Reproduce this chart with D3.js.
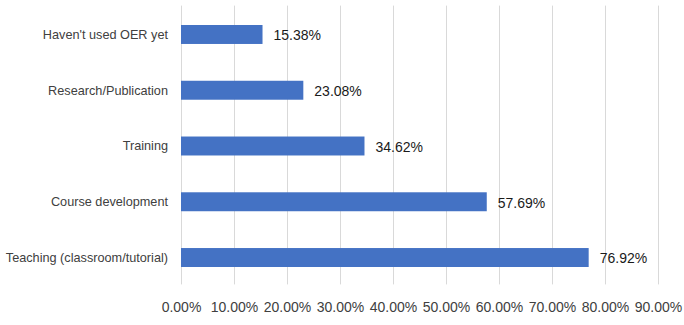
<!DOCTYPE html>
<html>
<head>
<meta charset="utf-8">
<script src="https://cdn.jsdelivr.net/npm/d3@7"></script>
<style>
  html, body { margin: 0; padding: 0; background: #fff; }
  svg { display: block; }
</style>
</head>
<body>
<svg id="chart" width="684" height="325"></svg>
<script>
const categories = ["Haven't used OER yet", "Research/Publication", "Training", "Course development", "Teaching (classroom/tutorial)"];
const values = [15.38, 23.08, 34.62, 57.69, 76.92];
const tickValues = [0, 10, 20, 30, 40, 50, 60, 70, 80, 90];

const svg = d3.select("#chart");
const plotLeft = 181, plotRight = 658, plotTop = 6.6, plotBottom = 285.4;

const x = d3.scaleLinear().domain([0, 90]).range([plotLeft, plotRight]);
const y = d3.scaleBand().domain(categories).range([plotTop, plotBottom]).paddingInner(0.66).paddingOuter(0.33);

// gridlines
svg.append("g").selectAll("line").data(tickValues).join("line")
  .attr("x1", d => Math.round(x(d)) + 0.5).attr("x2", d => Math.round(x(d)) + 0.5)
  .attr("y1", plotTop - 1).attr("y2", plotBottom - 1)
  .attr("stroke", "#d9d9d9").attr("stroke-width", 1);

// bars
svg.append("g").selectAll("rect").data(values).join("rect")
  .attr("x", x(0))
  .attr("y", (d, i) => y(categories[i]))
  .attr("width", d => x(d) - x(0))
  .attr("height", y.bandwidth())
  .attr("fill", "#4472C4");

// data labels
svg.append("g").selectAll("text").data(values).join("text")
  .attr("x", d => x(d) + 11)
  .attr("y", (d, i) => y(categories[i]) + y.bandwidth() / 2 + 1)
  .attr("dy", "0.35em")
  .attr("font-family", "Liberation Sans, Arial, sans-serif")
  .attr("font-size", 14)
  .attr("fill", "#1a1a1a")
  .text(d => d.toFixed(2) + "%");

// category labels
svg.append("g").selectAll("text").data(categories).join("text")
  .attr("x", plotLeft - 13)
  .attr("y", d => y(d) + y.bandwidth() / 2)
  .attr("dy", "0.35em")
  .attr("text-anchor", "end")
  .attr("font-family", "Liberation Sans, Arial, sans-serif")
  .attr("font-size", 12.7)
  .attr("fill", "#404040")
  .text(d => d);

// x axis tick labels
const xAxis = d3.axisBottom(x).tickValues(tickValues).tickSize(0).tickPadding(0)
  .tickFormat(d => d.toFixed(2) + "%");
const gx = svg.append("g").attr("transform", `translate(0, ${302})`).call(xAxis);
gx.select(".domain").remove();
gx.selectAll("text")
  .attr("font-family", "Liberation Sans, Arial, sans-serif")
  .attr("font-size", 14)
  .attr("fill", "#404040");
</script>
</body>
</html>
